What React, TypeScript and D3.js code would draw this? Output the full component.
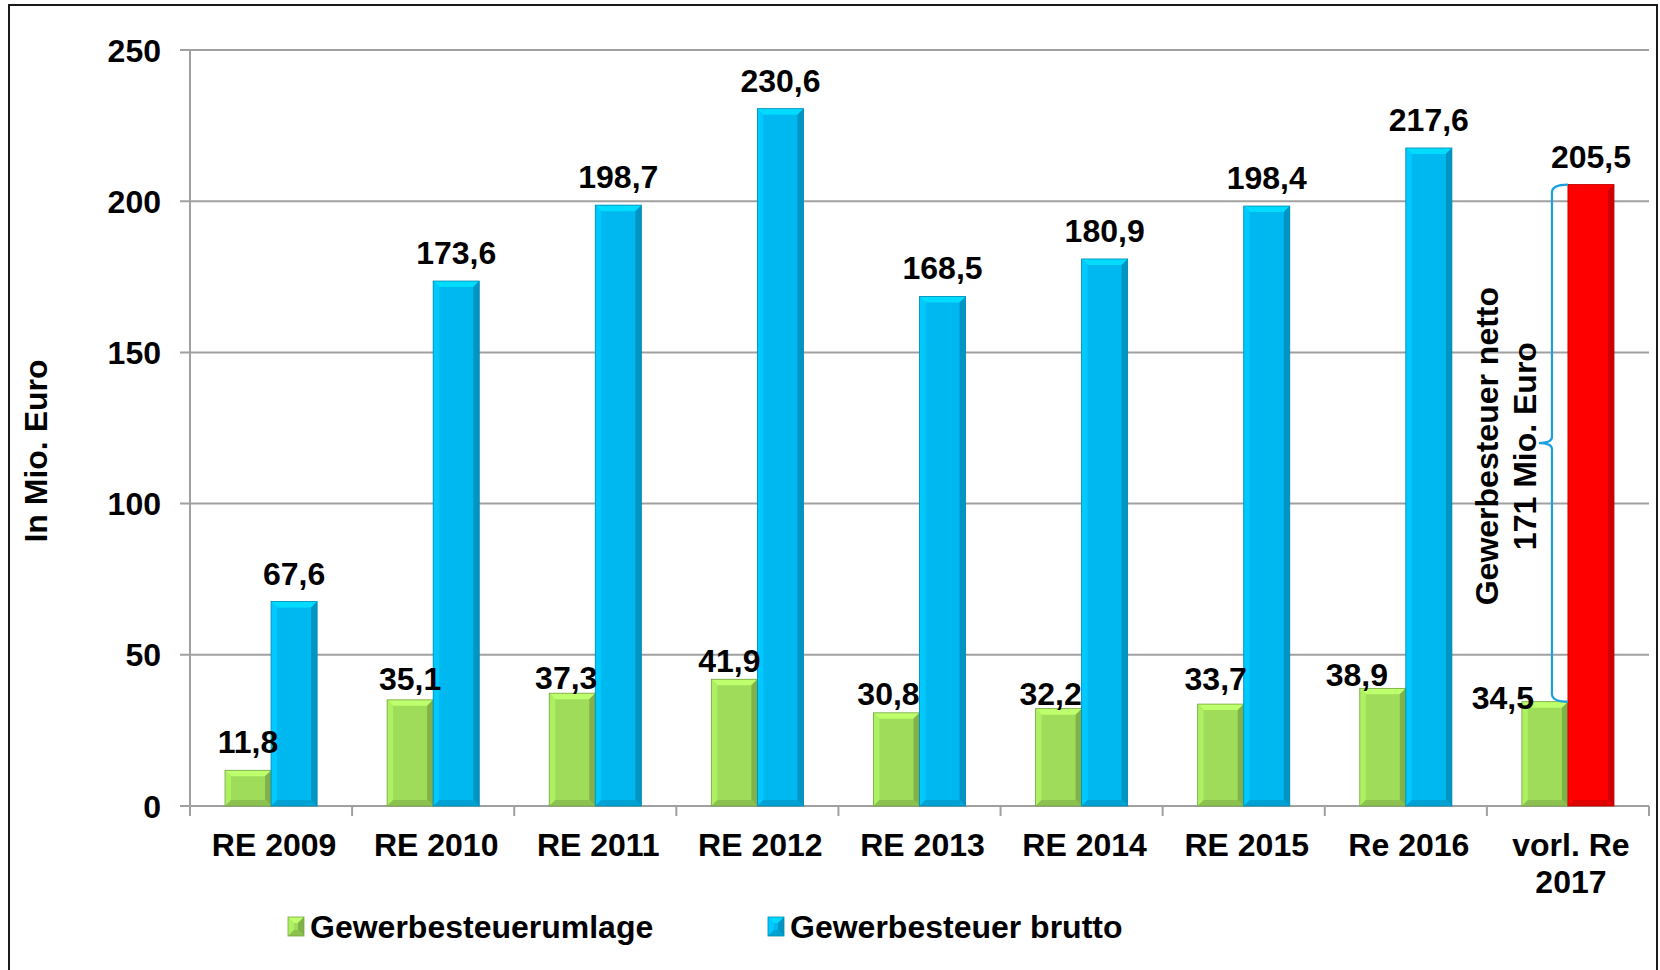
import React from "react";
import { scaleBand, scaleLinear, color as d3color } from "d3";

// Werte (Mio. Euro)
const categories = ["RE 2009", "RE 2010", "RE 2011", "RE 2012", "RE 2013", "RE 2014", "RE 2015", "Re 2016", "vorl. Re 2017"];
const umlage = [11.8, 35.1, 37.3, 41.9, 30.8, 32.2, 33.7, 38.9, 34.5];
const brutto = [67.6, 173.6, 198.7, 230.6, 168.5, 180.9, 198.4, 217.6, 205.5];
const yTicks = [0, 50, 100, 150, 200, 250];
const seriesNames = ["Gewerbesteuerumlage", "Gewerbesteuer brutto"];
const nettoText = ["Gewerbesteuer netto", "171 Mio. Euro"];

const W = 1660;
const H = 970;
const FONT = "'Liberation Sans', Arial, sans-serif";
const GREEN = "#9edc5a";
const BLUE = "#00b8f0";
const RED = "#ff0000";
const GRID = "#a0a0a0";

// manuell verschobene Beschriftungen der Umlage (dx, dy gegenüber Standard)
const umlageNudge: Record<number, [number, number]> = {
  1: [0, 7],
  2: [-6, 13],
  3: [-5, 10],
  4: [-8, 9],
  5: [-8, 13],
  6: [-5, 3],
  7: [-26, 15],
  8: [-42, 24],
};

function Bevel({ x, y, w, h, fill }: { x: number; y: number; w: number; h: number; fill: string }) {
  const c = d3color(fill)!;
  const light = c.brighter(0.5).formatHex();
  const lighter = c.brighter(0.25).formatHex();
  const dark = c.darker(0.6).formatHex();
  const darker = c.darker(0.35).formatHex();
  const b = Math.min(6, h / 2, w / 2);
  return (
    <g>
      <rect x={x} y={y} width={w} height={h} fill={fill} />
      <polygon points={`${x},${y} ${x + w},${y} ${x + w - b},${y + b} ${x + b},${y + b}`} fill={light} />
      <polygon points={`${x},${y} ${x + b},${y + b} ${x + b},${y + h - b} ${x},${y + h}`} fill={lighter} />
      <polygon points={`${x + w},${y} ${x + w},${y + h} ${x + w - b},${y + h - b} ${x + w - b},${y + b}`} fill={dark} />
      <polygon points={`${x},${y + h} ${x + w},${y + h} ${x + w - b},${y + h - b} ${x + b},${y + h - b}`} fill={darker} />
      <rect x={x} y={y} width={w} height={h} fill="none" stroke={c.darker(0.8).formatHex()} strokeWidth={0.8} />
    </g>
  );
}

export default function App() {
  const left = 190;
  const right = 1649;
  const top = 50;
  const bottom = 806;

  const x = scaleBand<string>().domain(categories).range([left, right]).paddingInner(0).paddingOuter(0);
  const xs = scaleBand<string>().domain(["u", "b"]).range([0, x.bandwidth()]).paddingInner(0).paddingOuter(0.76);
  const y = scaleLinear().domain([0, 250]).range([bottom, top]);

  const fmt = (v: number) => v.toFixed(1).replace(".", ",");

  const lastCat = categories[categories.length - 1];
  const lastU = umlage[umlage.length - 1];
  const lastB = brutto[brutto.length - 1];
  const braceX = (x(lastCat) as number) + (xs("b") as number) - 16;
  const braceEnd = (x(lastCat) as number) + (xs("b") as number);
  const yT = y(lastB);
  const yB = y(lastU);
  const yM = (yT + yB) / 2;
  const bracePath =
    `M${braceEnd},${yT} Q${braceX},${yT} ${braceX},${yT + 8} L${braceX},${yM - 6} ` +
    `Q${braceX},${yM} ${braceX - 13},${yM} Q${braceX},${yM} ${braceX},${yM + 6} ` +
    `L${braceX},${yB - 8} Q${braceX},${yB} ${braceEnd},${yB}`;

  return (
    <svg width={W} height={H} style={{ position: "absolute", left: 0, top: 0, background: "#fff" }} fontFamily={FONT} fontWeight="bold">
      <rect x={9} y={5} width={1648} height={980} fill="#fff" stroke="#1a1a1a" strokeWidth={2} />

      {/* Gitternetz und y-Achse */}
      {yTicks.map((t) => (
        <g key={t}>
          <line x1={left - 10} x2={right} y1={y(t)} y2={y(t)} stroke={GRID} strokeWidth={2} />
          <text x={161} y={y(t)} dy="0.36em" textAnchor="end" fontSize={32}>
            {t}
          </text>
        </g>
      ))}
      <line x1={left} x2={left} y1={top} y2={bottom} stroke={GRID} strokeWidth={2} />
      {categories.concat(["end"]).map((c, i) => {
        const px = left + i * x.step();
        return <line key={c} x1={px} x2={px} y1={bottom} y2={bottom + 10} stroke={GRID} strokeWidth={2} />;
      })}

      <text transform={`translate(47,451) rotate(-90)`} textAnchor="middle" fontSize={32}>
        In Mio. Euro
      </text>

      {/* Balken */}
      {categories.map((c, i) => {
        const x0 = x(c) as number;
        const isLast = i === categories.length - 1;
        return (
          <g key={c}>
            <Bevel x={x0 + (xs("u") as number)} y={y(umlage[i])} w={xs.bandwidth()} h={bottom - y(umlage[i])} fill={GREEN} />
            <Bevel x={x0 + (xs("b") as number)} y={y(brutto[i])} w={xs.bandwidth()} h={bottom - y(brutto[i])} fill={isLast ? RED : BLUE} />
          </g>
        );
      })}

      {/* Werte */}
      {categories.map((c, i) => {
        const x0 = x(c) as number;
        const n = umlageNudge[i] || [0, 0];
        return (
          <g key={c} fontSize={32} textAnchor="middle">
            <text x={x0 + (xs("u") as number) + xs.bandwidth() / 2 + n[0]} y={y(umlage[i]) - 17 + n[1]}>
              {fmt(umlage[i])}
            </text>
            <text x={x0 + (xs("b") as number) + xs.bandwidth() / 2} y={y(brutto[i]) - 17}>
              {fmt(brutto[i])}
            </text>
          </g>
        );
      })}

      {/* Kategorien */}
      {categories.map((c) => {
        const cx = (x(c) as number) + x.bandwidth() / 2 + 3;
        const parts = c.startsWith("vorl.") ? ["vorl. Re", "2017"] : [c];
        return (
          <text key={c} x={cx} y={856} textAnchor="middle" fontSize={32}>
            {parts.map((p, k) => (
              <tspan key={p} x={cx} dy={k === 0 ? 0 : 37}>
                {p}
              </tspan>
            ))}
          </text>
        );
      })}

      {/* Klammer netto */}
      <path d={bracePath} fill="none" stroke="#1a9fe0" strokeWidth={2.2} />
      <text transform={`translate(1486,${yM + 3}) rotate(-90)`} textAnchor="middle" fontSize={32}>
        <tspan x={0} dy="0.36em">{nettoText[0]}</tspan>
        <tspan x={0} dy={38}>{nettoText[1]}</tspan>
      </text>

      {/* Legende */}
      {seriesNames.map((s, i) => {
        const lx = i === 0 ? 288 : 768;
        return (
          <g key={s}>
            <Bevel x={lx} y={917} w={16} h={19} fill={i === 0 ? GREEN : BLUE} />
            <text x={lx + 22} y={938} fontSize={32}>
              {s}
            </text>
          </g>
        );
      })}
    </svg>
  );
}
